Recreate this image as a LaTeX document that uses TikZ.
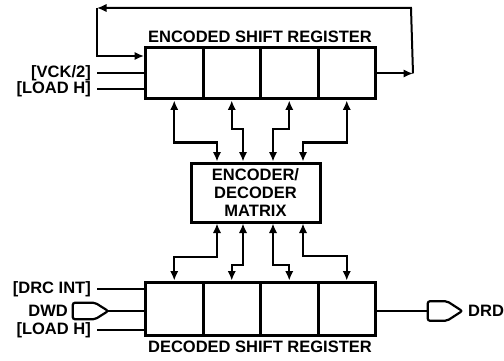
\documentclass[tikz,border=0pt]{standalone}
\usepackage{fontspec}
\setmainfont{Liberation Sans}
\usetikzlibrary{arrows.meta,calc}
\begin{document}
\begin{tikzpicture}[x=1pt,y=-1pt,
  cell/.style={draw,line width=3pt,minimum width=57.5pt,minimum height=51pt,inner sep=0pt},
  bcell/.style={cell,minimum height=53pt},
  matbox/.style={draw,line width=3pt,minimum width=129pt,minimum height=59pt,inner sep=0pt,align=center,font=\bfseries\fontsize{16.5}{18}\selectfont},
  lab/.style={inner sep=0pt,font=\bfseries\fontsize{16.5}{18}\selectfont},
  wire/.style={line width=2pt},
  tip/.tip={Latex[length=9.5pt,width=8.5pt]},
  arr/.style={wire,-tip},
  biarr/.style={wire,tip-tip},
  plugline/.style={line width=2.2pt,rounded corners=2pt},
  plugbox/.style={inner sep=0pt,minimum height=16pt}
]
\useasboundingbox (0,0) rectangle (504,361);

% top register
\node[cell] (t1) at (174.25,73.5) {};
\node[cell] (t2) at (231.75,73.5) {};
\node[cell] (t3) at (289.25,73.5) {};
\node[cell] (t4) at (346.75,73.5) {};
\node[lab] (ttitle) at (260,37) {ENCODED SHIFT REGISTER};

% matrix
\node[matbox] (mat) at (255.5,192.5) {ENCODER/\\DECODER\\MATRIX};

% bottom register
\node[bcell] (b1) at (174.25,308.5) {};
\node[bcell] (b2) at (231.75,308.5) {};
\node[bcell] (b3) at (289.25,308.5) {};
\node[bcell] (b4) at (346.75,308.5) {};
\node[lab] (btitle) at (260,347) {DECODED SHIFT REGISTER};

% feedback loop
\coordinate (fr) at ($(t4.east)+(36,0)$);
\coordinate (ftr) at (411,8);
\coordinate (ftl) at (97,8);
\draw[arr] (t4.east) -- (fr);
\draw[arr] (fr) -- (ftr) -- (ftl);
\draw[arr] (ftl) |- ($(t1.west)+(0,-17.5)$);

% top inputs
\node[lab,anchor=east] (vck) at (91,73) {[VCK/2]};
\node[lab,anchor=east] (ldt) at (91,89) {[LOAD H]};
\draw[wire] ($(vck.east)+(6,0)$) -- (vck.east -| t1.west);
\draw[wire] ($(ldt.east)+(6,0)$) -- (ldt.east -| t1.west);

% top register <-> matrix
\draw[biarr] (t1.south) -- ++(0,42) -| ($(mat.north)+(-38.5,0)$);
\draw[biarr] (t2.south) -- ++(0,29) -| ($(mat.north)+(-12.5,0)$);
\draw[biarr] (t3.south) -- ++(0,29) -| ($(mat.north)+(17.5,0)$);
\draw[biarr] (t4.south) -- ++(0,42) -| ($(mat.north)+(47.5,0)$);

% matrix <-> bottom register
\draw[biarr] ($(mat.south)+(-38.5,0)$) -- ++(0,33) -| (b1.north);
\draw[biarr] ($(mat.south)+(-12.5,0)$) -- ++(0,41) -| (b2.north);
\draw[biarr] ($(mat.south)+(17.5,0)$) -- ++(0,41) -| (b3.north);
\draw[biarr] ($(mat.south)+(47.5,0)$) -- ++(0,32) -| (b4.north);

% bottom inputs
\node[lab,anchor=east] (drc) at (91,289) {[DRC INT]};
\node[lab,anchor=east] (dwd) at (68,311) {DWD};
\node[lab,anchor=east] (ldb) at (91,330) {[LOAD H]};
\node[plugbox,minimum width=35pt] (dwdp) at (90.5,311) {};
\draw[plugline] (dwdp.north west) -- ($(dwdp.north east)+(-13,0)$) -- (dwdp.east)
  -- ($(dwdp.south east)+(-13,0)$) -- (dwdp.south west) -- cycle;
\draw[wire] ($(drc.east)+(6,0)$) -- (drc.east -| b1.west);
\draw[wire] (dwdp.east) -- (dwdp.east -| b1.west);
\draw[wire] ($(ldb.east)+(6,0)$) -- (ldb.east -| b1.west);

% output
\node[plugbox,minimum width=34pt,minimum height=19pt] (drdp) at (445,311) {};
\draw[plugline] (drdp.north west) -- ($(drdp.north east)+(-15,0)$) -- (drdp.east)
  -- ($(drdp.south east)+(-15,0)$) -- (drdp.south west) -- cycle;
\node[lab,anchor=west] (drd) at (468,311) {DRD};
\draw[wire] (b4.east |- drdp.west) -- (drdp.west);
\end{tikzpicture}
\end{document}
